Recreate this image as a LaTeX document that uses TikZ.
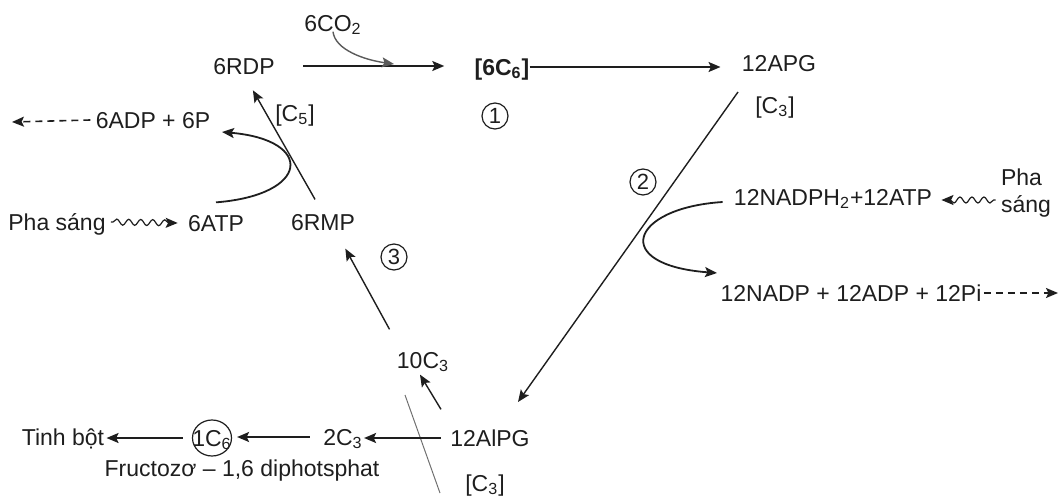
\documentclass[tikz,border=0pt]{standalone}
\usepackage{fontspec}
\setmainfont{Liberation Sans}
\usetikzlibrary{arrows.meta,decorations.pathmorphing,shapes.geometric}
\definecolor{ink}{HTML}{1E1E1E}
\definecolor{soft}{HTML}{5A5A5A}
\definecolor{cutgray}{HTML}{707070}
\begin{document}
\begin{tikzpicture}[x=0.5pt,y=-0.5pt,
  lbl/.style={font=\fontsize{11.5}{13.5}\selectfont, text=ink, inner sep=0pt, text height=8.25pt, text depth=0pt},
  lbl2/.style={font=\fontsize{11.5}{13.5}\selectfont, text=ink, inner sep=0pt, align=left},
  num/.style={draw=ink, circle, minimum size=13pt, inner sep=0pt, font=\fontsize{11}{13}\selectfont, text=ink, line width=0.6pt},
  ring/.style={lbl, draw=ink, ellipse, inner sep=-3pt, minimum width=19.5pt, minimum height=18pt, line width=0.6pt},
  arr/.style={draw=ink, line width=0.9pt, -{Stealth[length=6pt,width=5pt,inset=1.2pt]}},
  thinarr/.style={arr, line width=0.7pt},
  dasharr/.style={arr, line width=0.8pt, dash pattern=on 3.5pt off 2.5pt},
  wavyarr/.style={arr, line width=0.6pt, decorate, decoration={snake, amplitude=1.5pt, segment length=6pt, pre length=1pt, post length=4pt}},
  cutline/.style={draw=cutgray, line width=0.5pt}
]
\useasboundingbox (0,0) rectangle (1060,498);

% nodes
\node[lbl] (co2) at (333,23) {6CO\textsubscript{2}};
\node[lbl] (rdp) at (244,66) {6RDP};
\node[lbl, font=\fontsize{11.5}{13.5}\selectfont\bfseries] (c6) at (502,67) {[6C\textsubscript{6}]};
\node[lbl] (apg) at (779,63) {12APG};
\node[lbl] (c3a) at (775,105) {[C\textsubscript{3}]};
\node[num] (one) at (495,116) {1};
\node[num] (two) at (643,182) {2};
\node[num] (three) at (394,257) {3};
\node[lbl] (nadph) at (833,197) {12NADPH\textsubscript{2}+12ATP};
\node[lbl2] (phaR) at (1026,193) {Pha\\sáng};
\node[lbl] (nadp) at (851,293) {12NADP + 12ADP + 12Pi};
\node[lbl] (adp6) at (153,120) {6ADP + 6P};
\node[lbl] (c5) at (295,113) {[C\textsubscript{5}]};
\node[lbl] (phaL) at (57,222) {Pha sáng};
\node[lbl] (atp) at (216,223) {6ATP};
\node[lbl] (rmp) at (323,222) {6RMP};
\node[lbl] (c10) at (423,360) {10C\textsubscript{3}};
\node[lbl] (alpg) at (490,438) {12AlPG};
\node[lbl] (c3b) at (485,483) {[C\textsubscript{3}]};
\node[lbl] (c2) at (343,437) {2C\textsubscript{3}};
\node[ring] (c1) at (212,438) {1C\textsubscript{6}};
\node[lbl] (tinh) at (63,437) {Tinh bột};
\node[lbl] (fruc) at (242,468) {Fructozơ – 1,6 diphotsphat};

% free ends
\coordinate (co2in) at (394,64);
\coordinate (dtop) at (738,92);
\coordinate (dbot) at (518,402);
\coordinate (nadpin) at (717,273);
\coordinate (nadpout) at (1058,293);
\coordinate (adpout) at (12,122);
\coordinate (adpin) at (222,132);
\coordinate (wR) at (phaR.west |- 0,200);
\coordinate (cutA) at (405,395);
\coordinate (cutB) at (440,493);

% stage 1
\draw[arr, shorten <=14pt, shorten >=15pt] (rdp.east) -- (rdp.east -| c6.west);
\draw[arr, draw=soft, line width=0.7pt] (co2.south) .. controls (335,50) and (365,60) .. (co2in);
\draw[arr, shorten >=10.5pt] (c6.east) -- (c6.east -| apg.west);

% stage 2
\draw[thinarr] (dtop) -- (dbot);
\draw[arr] ([xshift=-5.5pt,yshift=-2.5pt]nadph.west) .. controls (630,208) and (610,265) .. (nadpin);
\draw[wavyarr] ([xshift=-2.5pt]wR) -- ([xshift=4.5pt]nadph.east |- wR);
\draw[dasharr] ([xshift=1pt]nadp.east) -- (nadpout);

% stage 3
\draw[thinarr] ([shift={(-7,-22)}]c10.north west) -- ([shift={(-10,18)}]rmp.south east);
\draw[thinarr] ([shift={(-9,-20)}]alpg.north west) -- ([shift={(-3,6)}]c10.south);
\draw[thinarr, shorten <=8pt, shorten >=9pt] (rmp.north) -- (rdp.south);
\draw[arr] ([yshift=6pt]atp.north) .. controls (310,195) and (315,140) .. (adpin);
\draw[dasharr] ([xshift=-2.5pt]adp6.west) -- (adpout);
\draw[wavyarr] ([xshift=2.5pt]phaL.east) -- ([xshift=-5pt]atp.west);

% products
\draw[cutline] (cutA) -- (cutB);
\draw[arr, shorten <=4.5pt, shorten >=0.5pt] (alpg.west) -- (alpg.west -| c2.east);
\draw[arr, shorten <=6.5pt, shorten >=2.5pt] (c2.west) -- (c2.west -| c1.east);
\draw[arr, shorten <=4.5pt, shorten >=1pt] (c1.west) -- (c1.west -| tinh.east);
\end{tikzpicture}
\end{document}
